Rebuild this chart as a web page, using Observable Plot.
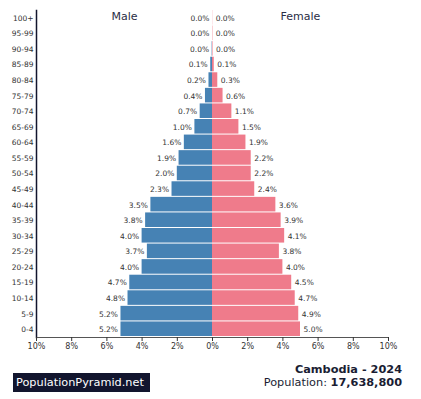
<!DOCTYPE html>
<html>
<head>
<meta charset="utf-8">
<script src="https://cdn.jsdelivr.net/npm/d3@7"></script>
<script src="https://cdn.jsdelivr.net/npm/@observablehq/plot@0.6"></script>
<style>
  html, body { margin: 0; padding: 0; background: #fff; }
  body { width: 421px; height: 399px; position: relative; overflow: hidden; font-family: "DejaVu Sans", sans-serif; }
  #chart { position: absolute; left: 0; top: 0; }
  #logo { position: absolute; left: 13px; top: 373px; width: 137px; height: 19px; background: #12152e; color: #fff; font-size: 11.3px; line-height: 19px; padding-left: 3px; box-sizing: border-box; white-space: nowrap; }
  #title { position: absolute; right: 19px; top: 363px; font-size: 11.3px; font-weight: bold; color: #1a1d33; white-space: nowrap; }
  #pop { position: absolute; right: 19px; top: 376px; font-size: 11.3px; color: #1a1d33; white-space: nowrap; }
</style>
</head>
<body>
<div id="chart"></div>
<div id="logo">PopulationPyramid.net</div>
<div id="title">Cambodia - 2024</div>
<div id="pop">Population: <b>17,638,800</b></div>
<script>
const ages = ["100+","95-99","90-94","85-89","80-84","75-79","70-74","65-69","60-64","55-59","50-54","45-49","40-44","35-39","30-34","25-29","20-24","15-19","10-14","5-9","0-4"];
const male = [0.0,0.0,0.02,0.1,0.2,0.4,0.7,1.0,1.6,1.9,2.0,2.3,3.5,3.8,4.0,3.7,4.0,4.7,4.8,5.2,5.2];
const female = [0.01,0.02,0.03,0.1,0.3,0.6,1.1,1.5,1.9,2.2,2.2,2.4,3.6,3.9,4.1,3.8,4.0,4.5,4.7,4.9,5.0];
const xTicks = [-10,-8,-6,-4,-2,0,2,4,6,8,10];
const sexLabels = [{sex:"Male", x:-5}, {sex:"Female", x:5}];

const maleData = ages.map((a,i) => ({age:a, v:male[i]}));
const femaleData = ages.map((a,i) => ({age:a, v:female[i]}));

const chart = Plot.plot({
  width: 421,
  height: 360,
  marginLeft: 36,
  marginRight: 33,
  marginTop: 10,
  marginBottom: 23,
  style: {fontFamily: "DejaVu Sans, sans-serif", fontSize: "7.5px", color: "#333"},
  x: {domain: [-10, 10], label: null},
  y: {domain: ages, padding: 0, round: false, label: null},
  marks: [
    Plot.barX(maleData, {x: d => -d.v, y: "age", fill: "#4682b4", insetBottom: 1}),
    Plot.barX(femaleData, {x: "v", y: "age", fill: "#ef7b8b", insetBottom: 1}),
    Plot.text(maleData, {x: d => -d.v, y: "age", text: d => d.v.toFixed(1) + "%", textAnchor: "end", dx: -3, fill: "#333", fontSize: 7.5}),
    Plot.text(femaleData, {x: "v", y: "age", text: d => d.v.toFixed(1) + "%", textAnchor: "start", dx: 3, fill: "#333", fontSize: 7.5}),
    Plot.text(sexLabels, {x: "x", y: () => "100+", text: "sex", fontSize: 11, fill: "#2a2d45", dy: -2}),
    Plot.frame({anchor: "left", stroke: "#12152e", strokeWidth: 1.5}),
    Plot.frame({anchor: "bottom", stroke: "#555", strokeWidth: 1}),
    Plot.axisX({ticks: xTicks, tickFormat: d => Math.abs(d) + "%", tickSize: 4, tickPadding: 2, label: null, fontSize: 8, stroke: "#333"}),
    Plot.axisY({tickSize: 0, tickPadding: 3, label: null, fontSize: 7.5})
  ]
});
document.getElementById("chart").appendChild(chart);
</script>
</body>
</html>
